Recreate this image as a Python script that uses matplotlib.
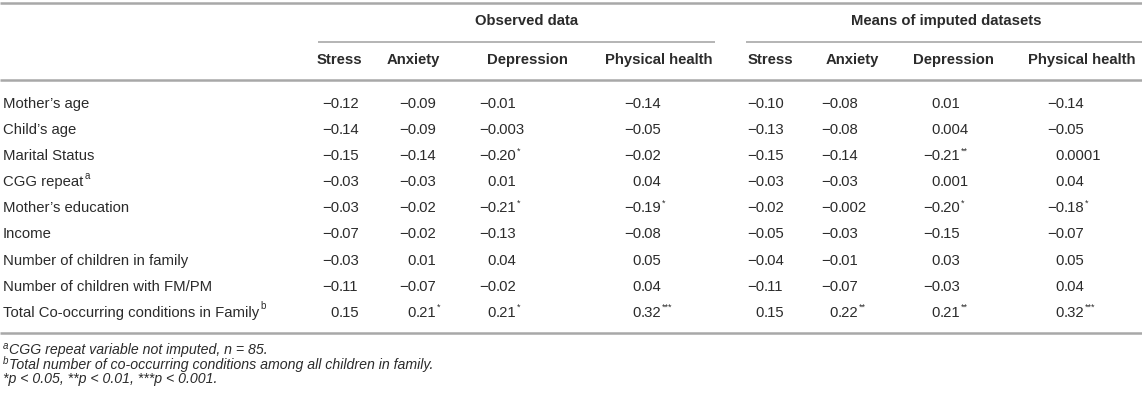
import matplotlib
matplotlib.use("Agg")
import matplotlib.pyplot as plt

plt.rcParams['font.family'] = ['Liberation Sans', 'DejaVu Sans']

# ---------------- data ----------------
row_labels = ["Mother\u2019s age", "Child\u2019s age", "Marital Status", "CGG repeat",
              "Mother\u2019s education", "Income", "Number of children in family",
              "Number of children with FM/PM", "Total Co-occurring conditions in Family"]
row_sup = ["", "", "", "a", "", "", "", "", "b"]

group_headers = ["Observed data", "Means of imputed datasets"]
col_headers = ["Stress", "Anxiety", "Depression", "Physical health"]

obs_stress = ["−0.12", "−0.14", "−0.15", "−0.03", "−0.03", "−0.07", "−0.03", "−0.11", "0.15"]
obs_anxiety = ["−0.09", "−0.09", "−0.14", "−0.03", "−0.02", "−0.02", "0.01", "−0.07", "0.21*"]
obs_depression = ["−0.01", "−0.003", "−0.20*", "0.01", "−0.21*", "−0.13", "0.04", "−0.02", "0.21*"]
obs_physical = ["−0.14", "−0.05", "−0.02", "0.04", "−0.19*", "−0.08", "0.05", "0.04", "0.32***"]

imp_stress = ["−0.10", "−0.13", "−0.15", "−0.03", "−0.02", "−0.05", "−0.04", "−0.11", "0.15"]
imp_anxiety = ["−0.08", "−0.08", "−0.14", "−0.03", "−0.002", "−0.03", "−0.01", "−0.07", "0.22**"]
imp_depression = ["0.01", "0.004", "−0.21**", "0.001", "−0.20*", "−0.15", "0.03", "−0.03", "0.21**"]
imp_physical = ["−0.14", "−0.05", "0.0001", "0.04", "−0.18*", "−0.07", "0.05", "0.04", "0.32***"]

footnote_sup = ["a", "b", ""]
footnotes = ["CGG repeat variable not imputed, n = 85.",
             "Total number of co-occurring conditions among all children in family.",
             "*p < 0.05, **p < 0.01, ***p < 0.001."]

# ---------------- layout ----------------
W, H = 1142, 403
fig = plt.figure(figsize=(W / 100, H / 100), dpi=100)
ax = fig.add_axes([0, 0, 1, 1])
ax.set_xlim(0, W)
ax.set_ylim(H, 0)
ax.axis("off")

TXT = "#2b2b2b"
LINE = "#a8a8a8"
FS = 10.7
FOOTFS = 10.2
SUPFS = 7

columns = [obs_stress, obs_anxiety, obs_depression, obs_physical,
           imp_stress, imp_anxiety, imp_depression, imp_physical]
dec_x = [339, 416, 496, 641, 764, 838, 940, 1064]
head_x = [339, 413, 527, 659, 770, 852, 953, 1082]
group_x = [527, 946]
group_span = [(318, 715), (746, W)]

y_top = 3
y_group = 21
y_gline = 42
y_head = 60
y_hline = 80
row_y0 = 104
row_dy = 26.1
y_bottom = 333
foot_y = [350, 364.5, 379]

# rules
for yy in (y_top, y_hline, y_bottom):
    ax.plot([0, W], [yy, yy], color=LINE, lw=1.8, solid_capstyle="butt")
for (x0, x1) in group_span:
    ax.plot([x0, x1], [y_gline, y_gline], color=LINE, lw=1.2, solid_capstyle="butt")

# group headers
for gx, g in zip(group_x, group_headers):
    ax.text(gx, y_group, g, ha="center", va="center", fontsize=FS,
            fontweight="bold", color=TXT)

# column headers
for i, hx in enumerate(head_x):
    ax.text(hx, y_head, col_headers[i % 4], ha="center", va="center",
            fontsize=FS, fontweight="bold", color=TXT)


def superscript(artist, s):
    ax.annotate(s, xy=(1, 0.62), xycoords=artist, xytext=(0.6, 0),
                textcoords="offset points", ha="left", va="bottom",
                fontsize=SUPFS, color=TXT)


# row labels
for r, (lab, sup) in enumerate(zip(row_labels, row_sup)):
    y = row_y0 + r * row_dy
    t = ax.text(3, y, lab, ha="left", va="center", fontsize=FS, color=TXT)
    if sup:
        superscript(t, sup)

# values, decimal aligned
for c, vals in enumerate(columns):
    for r, v in enumerate(vals):
        y = row_y0 + r * row_dy
        stars = v[len(v.rstrip("*")):]
        num = v.rstrip("*")
        ip, fp = num.split(".")
        ax.text(dec_x[c], y, ip, ha="right", va="center", fontsize=FS, color=TXT)
        t = ax.text(dec_x[c], y, "." + fp, ha="left", va="center", fontsize=FS, color=TXT)
        if stars:
            ax.annotate(stars, xy=(1, 0.55), xycoords=t, xytext=(0.3, 0),
                        textcoords="offset points", ha="left", va="bottom",
                        fontsize=SUPFS - 0.5, color=TXT)

# footnotes
for fy, sup, note in zip(foot_y, footnote_sup, footnotes):
    x = 3
    if sup:
        s = ax.text(x, fy - 4, sup, ha="left", va="center", fontsize=SUPFS,
                    style="italic", color=TXT)
        ax.annotate(note, xy=(1, 0.5), xycoords=s, xytext=(0.4, -2.9),
                    textcoords="offset points", ha="left", va="center",
                    fontsize=FOOTFS, style="italic", color=TXT)
    else:
        ax.text(x, fy, note, ha="left", va="center", fontsize=FOOTFS,
                style="italic", color=TXT)

fig.savefig("out.png", dpi=100)
